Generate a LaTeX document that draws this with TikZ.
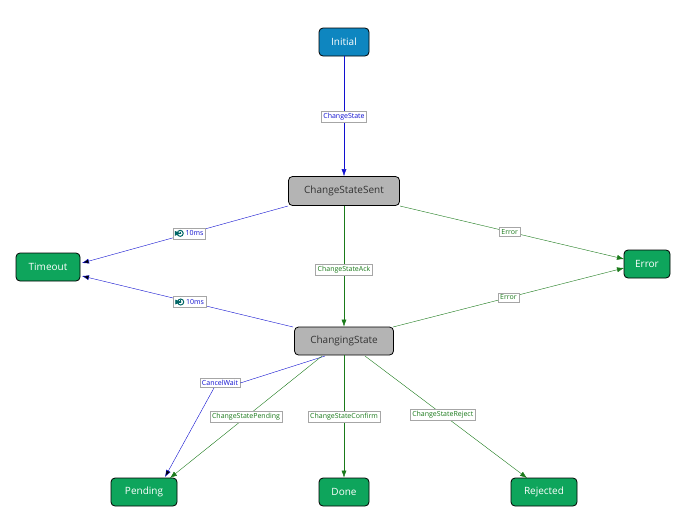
\documentclass[tikz,border=0pt]{standalone}
\usepackage{fontspec}
\setmainfont{Open Sans}
\usetikzlibrary{arrows.meta}
\definecolor{nblue}{HTML}{0E86C0}
\definecolor{ngreen}{HTML}{0EA55C}
\definecolor{ngray}{HTML}{B4B4B4}
\definecolor{eblue}{HTML}{1010D0}
\definecolor{egreen}{HTML}{1A7A1A}
\newcommand\myclock{\tikz[baseline=-0.7ex]{\draw[teal!80!black,line width=1pt] (0,0) circle (3pt); \draw[teal!80!black,line width=0.7pt] (0,1.8pt)--(0,0)--(1.6pt,0);}}
\begin{document}
\begin{tikzpicture}[x=1pt,y=-1pt,
 st/.style={draw=black,rounded corners=4pt,minimum height=28pt,font=\fontsize{10}{12}\selectfont,line width=0.8pt},
 bl/.style={st,fill=nblue,text=white},
 gr/.style={st,fill=ngreen,text=white},
 gy/.style={st,fill=ngray,text=black!80},
 lb/.style={draw=black!35,fill=white,inner sep=2pt,font=\fontsize{7}{8}\selectfont},
 be/.style={draw=eblue,-{Latex[length=7pt,width=5pt]}},
 ge/.style={draw=egreen,-{Latex[length=7pt,width=5pt]}}]
\useasboundingbox (0,0) rectangle (688,525);
\node[bl,minimum width=50pt] (ini) at (344,42) {Initial};
\node[gy,minimum width=111pt,minimum height=29pt] (css) at (344,191) {ChangeStateSent};
\node[gr,minimum width=64pt] (to) at (48,267) {Timeout};
\node[gr,minimum width=46pt] (err) at (647,264) {Error};
\node[gy,minimum width=99pt] (cs) at (344,341) {ChangingState};
\node[gr,minimum width=66pt] (pen) at (144,492) {Pending};
\node[gr,minimum width=50pt] (done) at (344,492) {Done};
\node[gr,minimum width=66pt] (rej) at (544,492) {Rejected};
\coordinate (a1) at (288,206); \coordinate (a2) at (82,263);
\coordinate (b1) at (400,206); \coordinate (b2) at (624,259);
\coordinate (c1) at (293,327); \coordinate (c2) at (82,276);
\coordinate (d1) at (393,327); \coordinate (d2) at (624,268);
\coordinate (e1) at (325,356); \coordinate (e2) at (165,477);
\coordinate (f1) at (322,356); \coordinate (f2) at (170,478);
\coordinate (g1) at (365,356); \coordinate (g2) at (527,478);
\draw[be] (ini) -- (css) node[lb,pos=0.5,text=eblue] {ChangeState};
\draw[be] (a1) -- (a2) node[lb,pos=0.48,text=eblue] {\myclock\ 10ms};
\draw[ge] (b1) -- (b2) node[lb,pos=0.49,text=egreen] {Error};
\draw[ge] (css) -- (cs) node[lb,pos=0.53,text=egreen] {ChangeStateAck};
\draw[be] (c1) -- (c2) node[lb,pos=0.49,text=eblue] {\myclock\ 10ms};
\draw[ge] (d1) -- (d2) node[lb,pos=0.5,text=egreen] {Error};
\node[lb,text=eblue] (cw) at (220,383) {CancelWait};
\draw[eblue] (e1) -- (cw.east);
\draw[be] (cw.south) ++(-6,0) coordinate (cw2) (cw2) -- (e2);
\draw[ge] (f1) -- (f2) node[lb,pos=0.5,text=egreen] {ChangeStatePending};
\draw[ge] (cs) -- (done) node[lb,pos=0.5,text=egreen] {ChangeStateConfirm};
\draw[ge] (g1) -- (g2) node[lb,pos=0.48,text=egreen] {ChangeStateReject};
\end{tikzpicture}
\end{document}
